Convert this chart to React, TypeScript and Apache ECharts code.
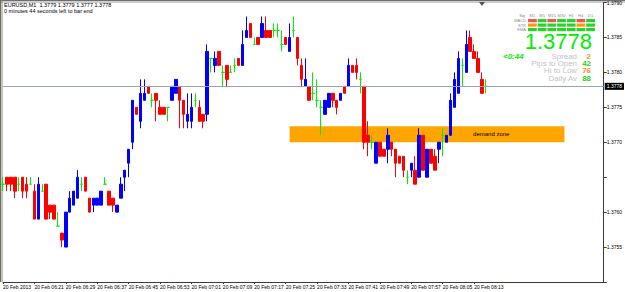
import React, { useEffect, useRef } from 'react';
import * as echarts from 'echarts';

// ---- data ----
const symbolTitle = 'EURUSD,M1  1.3779 1.3779 1.3777 1.3778';
const timerText = '0 minutes 44 seconds left to bar end';

const opens = [
  1.3764, 1.3765, 1.3765, 1.3765, 1.3764, 1.3765, 1.3764, 1.3764, 1.3763, 1.3759,
  1.3763, 1.3764, 1.3761, 1.3761, 1.3758, 1.3757, 1.3755, 1.376, 1.3761, 1.3762,
  1.3764, 1.3765, 1.3762, 1.3761, 1.3761, 1.3761, 1.3764, 1.3763, 1.3762, 1.376,
  1.3762, 1.3765, 1.3767, 1.377, 1.3775, 1.3773, 1.3776, 1.3778, 1.3776, 1.3777,
  1.3775, 1.3775, 1.3775, 1.3776, 1.3777, 1.3778, 1.3776, 1.3773, 1.3773, 1.3776,
  1.3775, 1.3774, 1.3774, 1.3782, 1.3781, 1.3783, 1.378, 1.3781, 1.378, 1.3781,
  1.3782, 1.3781, 1.3785, 1.3787, 1.3784, 1.3785, 1.3785, 1.3786, 1.3786, 1.3786,
  1.3786, 1.3784, 1.3785, 1.3783, 1.3786, 1.3785, 1.3781, 1.3778, 1.3778, 1.3777,
  1.3776, 1.3775, 1.3774, 1.3775, 1.3777, 1.3776, 1.3776, 1.3778, 1.3778, 1.3781,
  1.3781, 1.3779, 1.3778, 1.3771, 1.377, 1.3767, 1.377, 1.3769, 1.3769, 1.377,
  1.3769, 1.3768, 1.3768, 1.3765, 1.3766, 1.3766, 1.3765, 1.3771, 1.3765, 1.3769,
  1.3768, 1.3769, 1.3771, 1.377, 1.3771, 1.3775, 1.3777, 1.3781, 1.378, 1.3785,
  1.3783, 1.3782, 1.3779, 1.3778,
];
const closes = [
  1.3764, 1.3764, 1.3764, 1.3763, 1.3764, 1.3763, 1.3763, 1.3764, 1.3759, 1.3764,
  1.3763, 1.3759, 1.376, 1.3759, 1.3758, 1.3756, 1.376, 1.3762, 1.3763, 1.3765,
  1.3764, 1.3763, 1.376, 1.3762, 1.3762, 1.3763, 1.3764, 1.3761, 1.3761, 1.3761,
  1.3764, 1.3766, 1.3769, 1.3776, 1.3774, 1.3777, 1.3777, 1.3777, 1.3776, 1.3776,
  1.3774, 1.3774, 1.3775, 1.3778, 1.3779, 1.3776, 1.3774, 1.3774, 1.3775, 1.3776,
  1.3773, 1.3773, 1.3783, 1.3782, 1.3782, 1.3781, 1.378, 1.3779, 1.378, 1.3781,
  1.3781, 1.3784, 1.3786, 1.3785, 1.3784, 1.3784, 1.3787, 1.3785, 1.3785, 1.3786,
  1.3786, 1.3784, 1.3784, 1.3785, 1.3786, 1.3782, 1.3779, 1.3779, 1.3776, 1.3777,
  1.3776, 1.3775, 1.3776, 1.3777, 1.3776, 1.3775, 1.3777, 1.3777, 1.3781, 1.378,
  1.378, 1.3779, 1.377, 1.377, 1.377, 1.377, 1.3768, 1.3768, 1.3771, 1.3769,
  1.3767, 1.3767, 1.3766, 1.3765, 1.3767, 1.3764, 1.3771, 1.3766, 1.3769, 1.3767,
  1.3766, 1.377, 1.3771, 1.3771, 1.3776, 1.3779, 1.3782, 1.3781, 1.3784, 1.3783,
  1.3782, 1.378, 1.3777, 1.3778,
];
const lows = [
  1.3763, 1.3763, 1.3763, 1.3762, 1.3763, 1.3762, 1.3762, 1.3764, 1.3759, 1.3759,
  1.3763, 1.3759, 1.3759, 1.3759, 1.3758, 1.3755, 1.3755, 1.376, 1.3761, 1.3762,
  1.3763, 1.3763, 1.376, 1.376, 1.3761, 1.3761, 1.3764, 1.3761, 1.376, 1.376,
  1.3762, 1.3763, 1.3765, 1.3769, 1.3774, 1.3772, 1.3776, 1.3777, 1.3775, 1.3773,
  1.3774, 1.3774, 1.3773, 1.3776, 1.3777, 1.3772, 1.3772, 1.3772, 1.3772, 1.3775,
  1.3773, 1.3772, 1.3773, 1.378, 1.378, 1.3781, 1.3778, 1.3778, 1.378, 1.378,
  1.3781, 1.3781, 1.3785, 1.3785, 1.3784, 1.3784, 1.3785, 1.3785, 1.3785, 1.3785,
  1.3785, 1.3783, 1.3784, 1.3783, 1.3785, 1.3781, 1.3778, 1.3778, 1.3776, 1.3776,
  1.3775, 1.3771, 1.3774, 1.3775, 1.3775, 1.3774, 1.3776, 1.3777, 1.3778, 1.378,
  1.3779, 1.3777, 1.3769, 1.3768, 1.3769, 1.3767, 1.3768, 1.3768, 1.3767, 1.3768,
  1.3765, 1.3767, 1.3765, 1.3764, 1.3765, 1.3764, 1.3765, 1.3766, 1.3765, 1.3767,
  1.3766, 1.3767, 1.3768, 1.377, 1.3771, 1.3775, 1.3777, 1.3778, 1.378, 1.3783,
  1.3782, 1.378, 1.3777, 1.3777,
];
const highs = [
  1.3765, 1.3765, 1.3765, 1.3765, 1.3765, 1.3765, 1.3765, 1.3765, 1.3764, 1.3765,
  1.3764, 1.3764, 1.3761, 1.3761, 1.376, 1.3757, 1.376, 1.3763, 1.3763, 1.3766,
  1.3765, 1.3765, 1.3762, 1.3762, 1.3762, 1.3763, 1.3765, 1.3763, 1.3762, 1.3761,
  1.3765, 1.3766, 1.3769, 1.3776, 1.3775, 1.3779, 1.3779, 1.3778, 1.3777, 1.3777,
  1.3776, 1.3775, 1.3775, 1.3778, 1.3779, 1.3778, 1.3776, 1.3777, 1.3777, 1.3777,
  1.3776, 1.3774, 1.3784, 1.3782, 1.3783, 1.3783, 1.3781, 1.3781, 1.3781, 1.3782,
  1.3782, 1.3786, 1.3788, 1.3787, 1.3785, 1.3785, 1.3788, 1.3788, 1.3786, 1.3787,
  1.3787, 1.3786, 1.3785, 1.3787, 1.3788, 1.3785, 1.3782, 1.3782, 1.3778, 1.378,
  1.3779, 1.3776, 1.3776, 1.3777, 1.3777, 1.3776, 1.3777, 1.3778, 1.3782, 1.3781,
  1.3782, 1.378, 1.3778, 1.3773, 1.3771, 1.377, 1.377, 1.3769, 1.3772, 1.377,
  1.3769, 1.3768, 1.3768, 1.3766, 1.3767, 1.3768, 1.3772, 1.3771, 1.3769, 1.3769,
  1.3769, 1.377, 1.3772, 1.3771, 1.3777, 1.378, 1.3783, 1.3782, 1.3786, 1.3786,
  1.3784, 1.3783, 1.378, 1.3779,
];

const tickLabels = [
  '20 Feb 2013', '20 Feb 06:21', '20 Feb 06:29', '20 Feb 06:37', '20 Feb 06:45',
  '20 Feb 06:53', '20 Feb 07:01', '20 Feb 07:09', '20 Feb 07:17', '20 Feb 07:25',
  '20 Feb 07:33', '20 Feb 07:41', '20 Feb 07:49', '20 Feb 07:57', '20 Feb 08:05',
  '20 Feb 08:13',
];
const barsPerTick = 8;
const startMinute = 6 * 60 + 13;

const priceMin = 1.375;
const priceMax = 1.379;
const priceStep = 0.0005;
const hiddenPriceLabels = ['1.3750', '1.3765'];
const bidPrice = 1.3778;

const demandLow = 1.377;
const demandHigh = 1.37723;
const demandFromBar = 72.5;
const demandToBar = 143;
const demandLabel = 'demand zone';

const timeframes = ['M1', 'M5', 'M15', 'M30', 'H1', 'H4', 'D1'];
const signalRows = ['MACD', 'STR', 'EMA'];
const macdSignals = ['r', 'g', 'r', 'g', 'g', 'r', 'g'];
const strSignals = ['o', 'g', 'g', 'g', 'g', 'o', 'g'];
const emaSignals = ['g', 'g', 'g', 'g', 'g', 'g', 'g'];
const bigPrice = '1.3778';
const countdown = '<0:44';
const infoLabels = ['Spread', 'Pips to Open', 'Hi to Low', 'Daily Av'];
const infoValues = ['2', '42', '76', '88'];
const infoValueColors = ['o', 'g', 'o', 'g'];

// ---- layout / style ----
const W = 625;
const H = 292;
const totalSlots = 154;
const FONT = 'Liberation Sans, Arial, sans-serif';
const BLUE = '#0000ff';
const RED = '#ff0000';
const LIME = '#00ee00';
const sigColor: Record<string, string> = { r: '#f25555', g: '#2ad22a', o: '#ff9a00' };
const valColor: Record<string, string> = { o: '#ff8c1a', g: '#1fd51f' };

function pad2(n: number) {
  return n < 10 ? '0' + n : String(n);
}

export default function App() {
  const ref = useRef<HTMLDivElement>(null);

  useEffect(() => {
    if (!ref.current) return;
    const chart = echarts.init(ref.current, undefined, { renderer: 'svg' });

    const categories = Array.from({ length: totalSlots }, (_, i) => {
      if (i >= opens.length) return '';
      const m = startMinute + i;
      return pad2(Math.floor(m / 60)) + ':' + pad2(m % 60);
    });

    const candleData = opens.map((o, i) => {
      const v = [o, closes[i], lows[i], highs[i]];
      if (o === closes[i]) {
        return {
          value: v,
          itemStyle: { color: LIME, color0: LIME, borderColor: LIME, borderColor0: LIME },
        };
      }
      return { value: v };
    });

    const isTick = (idx: number) =>
      idx % barsPerTick === 0 && idx / barsPerTick < tickLabels.length;

    const graphics: any[] = [];
    // window frame
    graphics.push(
      { type: 'line', shape: { x1: 0, y1: 0.5, x2: W, y2: 0.5 }, style: { stroke: '#6e6e6e', lineWidth: 1 }, silent: true },
      { type: 'line', shape: { x1: 0, y1: 2, x2: W, y2: 2 }, style: { stroke: '#9a9a9a', lineWidth: 1 }, silent: true },
      { type: 'line', shape: { x1: 0.5, y1: 0, x2: 0.5, y2: 282 }, style: { stroke: '#6e6e60', lineWidth: 1 }, silent: true },
      { type: 'line', shape: { x1: 2, y1: 0, x2: 2, y2: 282 }, style: { stroke: '#8a8a7a', lineWidth: 1 }, silent: true },
      { type: 'polygon', shape: { points: [[479, 2], [485, 2], [482, 6]] }, style: { fill: '#555' }, silent: true }
    );
    // header texts
    graphics.push(
      { type: 'text', x: 4, y: 2, style: { text: symbolTitle, font: `5.5px ${FONT}`, fill: '#000', lineHeight: 6 }, silent: true },
      { type: 'text', x: 4, y: 8, style: { text: timerText, font: `5.5px ${FONT}`, fill: '#000', lineHeight: 6 }, silent: true }
    );
    // signal table
    const cellX0 = 528;
    const cellStep = 9.7;
    const cellW = 8.8;
    timeframes.forEach((tf, c) => {
      graphics.push({
        type: 'text', x: cellX0 + c * cellStep + cellW / 2, y: 15,
        style: { text: tf, font: `4px ${FONT}`, fill: '#8a8a8a', align: 'center', verticalAlign: 'middle', lineHeight: 4 },
        silent: true,
      });
    });
    graphics.push({
      type: 'text', x: 525, y: 15,
      style: { text: 'Sig', font: `4px ${FONT}`, fill: '#8a8a8a', align: 'right', verticalAlign: 'middle', lineHeight: 4 },
      silent: true,
    });
    const rowSignals = [macdSignals, strSignals, emaSignals];
    const rowY = [19, 23.5, 28];
    signalRows.forEach((name, r) => {
      graphics.push({
        type: 'text', x: 526, y: rowY[r] + 1.5,
        style: { text: name, font: `4px ${FONT}`, fill: '#8a8a8a', align: 'right', verticalAlign: 'middle', lineHeight: 4 },
        silent: true,
      });
      rowSignals[r].forEach((s, c) => {
        graphics.push({
          type: 'rect', shape: { x: cellX0 + c * cellStep, y: rowY[r], width: cellW, height: 3.2 },
          style: { fill: sigColor[s] }, silent: true,
        });
      });
    });
    graphics.push({
      type: 'text', x: 592, y: 41.5,
      style: { text: bigPrice, font: `22px ${FONT}`, fill: LIME, align: 'right', verticalAlign: 'middle', lineHeight: 17 },
      silent: true,
    });
    graphics.push({
      type: 'text', x: 503, y: 56.5,
      style: { text: countdown, font: `italic bold 8px ${FONT}`, fill: LIME, align: 'left', verticalAlign: 'middle', lineHeight: 7 },
      silent: true,
    });
    infoLabels.forEach((lab, k) => {
      const y = 56.5 + k * 7.3;
      graphics.push({
        type: 'text', x: 577, y, scaleX: 1.2,
        style: { text: lab, font: `6.6px ${FONT}`, fill: '#c4c4c4', align: 'right', verticalAlign: 'middle', lineHeight: 6.6 },
        silent: true,
      });
      graphics.push({
        type: 'text', x: 591, y, scaleX: 1.2,
        style: { text: infoValues[k], font: `bold 6.6px ${FONT}`, fill: valColor[infoValueColors[k]], align: 'right', verticalAlign: 'middle', lineHeight: 6.6 },
        silent: true,
      });
    });

    chart.setOption({
      animation: false,
      backgroundColor: '#ffffff',
      grid: { left: 3, right: W - 604, top: 2, bottom: H - 282, containLabel: false },
      xAxis: {
        type: 'category',
        data: categories,
        boundaryGap: false,
        axisLine: { show: true, lineStyle: { color: '#3a3a3a', width: 1 } },
        axisTick: { show: true, interval: (idx: number) => isTick(idx), length: 2, lineStyle: { color: '#3a3a3a' } },
        axisLabel: {
          interval: (idx: number) => isTick(idx),
          formatter: (_v: string, idx: number) => tickLabels[idx / barsPerTick] ?? '',
          align: 'left',
          margin: 2,
          fontSize: 5,
          fontFamily: FONT,
          color: '#000',
        },
        splitLine: { show: false },
      },
      yAxis: {
        type: 'value',
        position: 'right',
        min: priceMin,
        max: priceMax,
        interval: priceStep,
        axisLine: { show: true, lineStyle: { color: '#3a3a3a', width: 1 } },
        axisTick: { show: true, length: 3, lineStyle: { color: '#3a3a3a' } },
        axisLabel: {
          margin: 3,
          fontSize: 5,
          fontFamily: FONT,
          color: '#000',
          formatter: (v: number) => {
            const s = v.toFixed(4);
            return hiddenPriceLabels.includes(s) ? '' : s;
          },
        },
        splitLine: { show: false },
      },
      graphic: graphics,
      series: [
        {
          type: 'candlestick',
          data: candleData,
          barWidth: 3,
          z: 3,
          itemStyle: {
            color: BLUE,
            color0: RED,
            borderColor: BLUE,
            borderColor0: RED,
            borderColorDoji: LIME,
            borderWidth: 1,
          },
          markArea: {
            silent: true,
            itemStyle: { color: '#ffa500', opacity: 1 },
            label: {
              show: true,
              position: 'insideRight',
              distance: 55,
              color: '#000',
              fontSize: 6,
              fontFamily: FONT,
            },
            data: [
              [
                { name: demandLabel, coord: [demandFromBar, demandHigh] },
                { coord: [demandToBar, demandLow] },
              ],
            ],
          },
        },
        {
          type: 'line',
          name: 'bid',
          data: [],
          silent: true,
          z: 2,
          markLine: {
            silent: true,
            symbol: ['none', 'none'],
            lineStyle: { color: '#98a4b4', width: 1, type: 'solid', opacity: 1 },
            label: {
              show: true,
              position: 'end',
              distance: 1,
              formatter: bidPrice.toFixed(4),
              backgroundColor: '#000',
              color: '#fff',
              fontSize: 5,
              fontFamily: FONT,
              padding: [1, 2],
            },
            data: [
              [
                { coord: [0, bidPrice] },
                { coord: [totalSlots - 1, bidPrice] },
              ],
            ],
          },
        },
      ],
    });

    return () => chart.dispose();
  }, []);

  return (
    <div
      ref={ref}
      style={{ position: 'fixed', left: 0, top: 0, width: W, height: H, background: '#fff' }}
    />
  );
}
